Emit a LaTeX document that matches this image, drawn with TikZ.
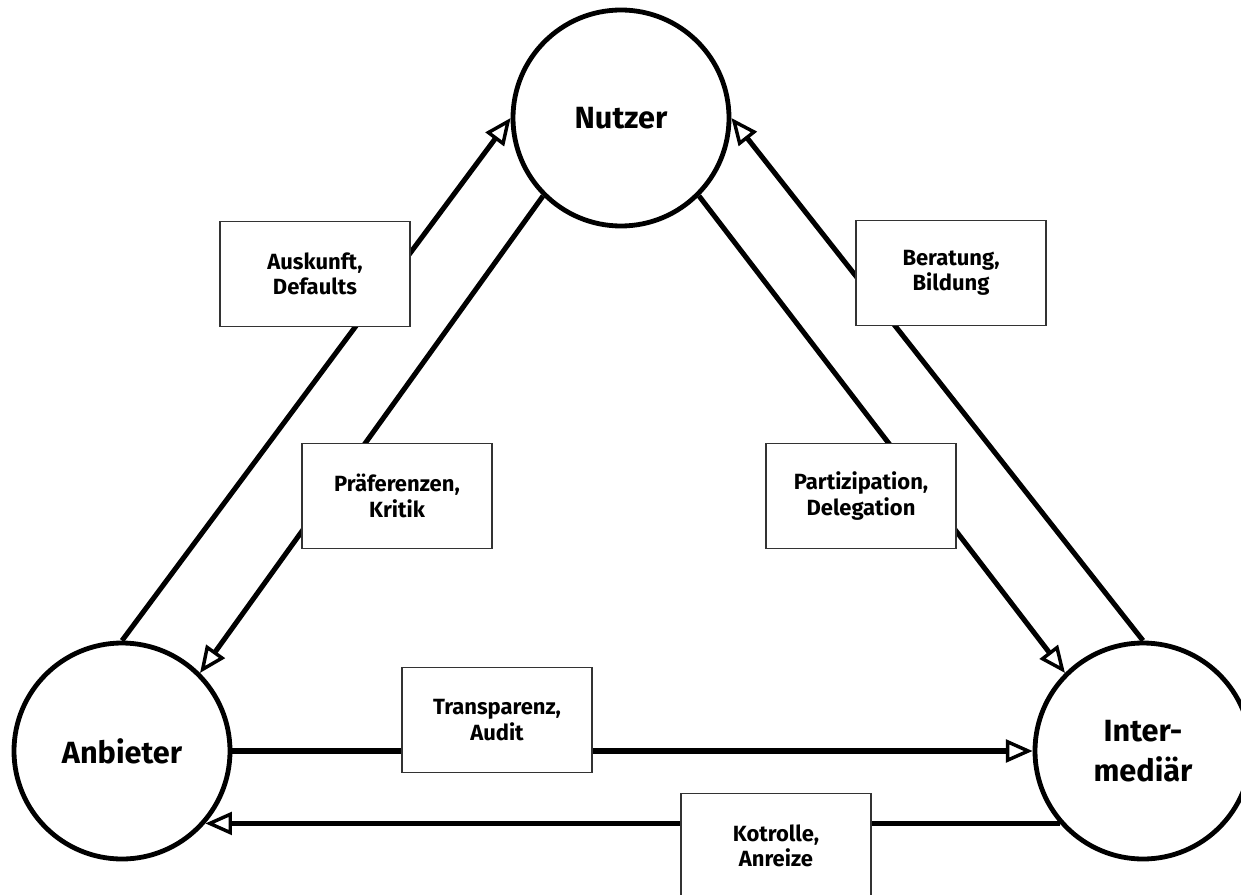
\documentclass[tikz,border=0pt]{standalone}
\usepackage{fontspec}
\setmainfont{Fira Sans}
\usetikzlibrary{arrows.meta}
\tikzset{
  party/.style={circle, draw, line width=3.6pt, minimum size=162pt, inner sep=0pt, align=center,
    font=\fontsize{23}{30}\selectfont\bfseries},
  label box/.style={rectangle, draw=black!80, line width=0.8pt, fill=white, minimum width=142.5pt,
    minimum height=78.75pt, inner sep=0pt, align=center, font=\fontsize{16.5}{19}\selectfont\bfseries},
  flow/.style={line width=3.8pt, -{Triangle[open, length=20pt, width=17pt, line width=2.6pt]}},
}
\begin{document}
\begin{tikzpicture}[x=0.75pt, y=-0.75pt]
\useasboundingbox (0,0) rectangle (1241,895);
\node[party] (N) at (621,118) {Nutzer};
\node[party] (A) at (122,751) {Anbieter};
\node[party] (I) at (1143,751) {Inter-\\mediär};
\draw[flow] (A.north) -- (N.west);
\draw[flow] (N.225) -- (A.45);
\draw[flow] (N.-45) -- (I.135);
\draw[flow] (I.north) -- (N.east);
\draw[flow] (A.east) -- (I.west);
\draw[flow] (I.221.8) -- (A.319.8);
\node[label box] (b1) at (315,274) {Auskunft,\\Defaults};
\node[label box] (b2) at (951,273) {Beratung,\\Bildung};
\node[label box] (b3) at (397,496) {Präferenzen,\\Kritik};
\node[label box] (b4) at (861,496) {Partizipation,\\Delegation};
\node[label box] (b5) at (497,720) {Transparenz,\\Audit};
\node[label box] (b6) at (776,846) {Kotrolle,\\Anreize};
\end{tikzpicture}
\end{document}
